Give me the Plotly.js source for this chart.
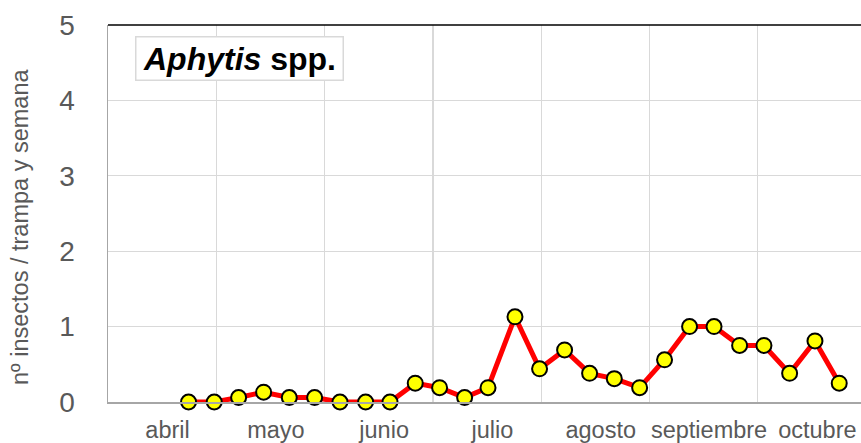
<!DOCTYPE html>
<html>
<head>
<meta charset="utf-8">
<script src="https://cdn.plot.ly/plotly-3.0.1.min.js"></script>
<style>
html,body{margin:0;padding:0;background:#fff;}
#chart{width:861px;height:443px;}
</style>
</head>
<body>
<div id="chart"></div>
<script>
// Month categories (each month = 1 unit on the x axis)
const months = ["abril", "mayo", "junio", "julio", "agosto", "septiembre", "octubre"];
const monthLabelPos = [0.55, 1.55, 2.55, 3.55, 4.55, 5.55, 6.55];
const monthBounds = [0, 1, 2, 3, 4, 5, 6, 7];
// Weekly sampling positions (in month units)
const weekPos = [0.744, 0.981, 1.206, 1.437, 1.674, 1.908, 2.142, 2.379, 2.604, 2.837,
                 3.062, 3.293, 3.509, 3.758, 3.985, 4.216, 4.447, 4.675, 4.909, 5.139,
                 5.370, 5.596, 5.832, 6.057, 6.294, 6.528, 6.752];
// nº insectos / trampa y semana
const aphytis = [0, 0, 0.06, 0.13, 0.06, 0.06, 0, 0, 0, 0.25,
                 0.19, 0.06, 0.19, 1.13, 0.44, 0.69, 0.38, 0.31, 0.19, 0.56,
                 1.0, 1.0, 0.75, 0.75, 0.38, 0.81, 0.25];
const yTicks = [0, 1, 2, 3, 4, 5];
const yTitle = "nº insectos / trampa y semana";
const seriesTitle = "<b><i>Aphytis</i> spp.</b>";

const FONT = "Liberation Sans, Arial, sans-serif";

const trace = {
  x: weekPos, y: aphytis,
  type: "scatter", mode: "lines+markers",
  line: {color: "#ff0000", width: 5},
  marker: {size: 15, color: "#ffff00", line: {color: "#000000", width: 2}},
  cliponaxis: false,
  hoverinfo: "skip"
};

const layout = {
  width: 861, height: 443,
  margin: {l: 108, r: 0, t: 25, b: 41},
  paper_bgcolor: "#ffffff", plot_bgcolor: "#ffffff",
  showlegend: false,
  font: {family: FONT, color: "#595959"},
  xaxis: {
    range: [0, 6.953],
    tickmode: "array", tickvals: monthLabelPos, ticktext: months,
    showgrid: false, zeroline: false,
    ticks: "", ticklabelstandoff: 6,
    tickfont: {size: 23.5, color: "#595959", family: FONT},
    showline: true, linecolor: "#a6a6a6", linewidth: 1.5,
    minor: {tickmode: "array", tickvals: monthBounds, showgrid: true, gridcolor: "#d9d9d9", gridwidth: 1.3, ticks: ""},
    fixedrange: true
  },
  yaxis: {
    range: [0, 5],
    tickmode: "array", tickvals: yTicks,
    showgrid: true, gridcolor: "#d9d9d9", gridwidth: 1.3,
    zeroline: false, ticks: "", ticklabelstandoff: 26,
    tickfont: {size: 28, color: "#595959", family: FONT},
    showline: true, linecolor: "#a6a6a6", linewidth: 1.5,
    fixedrange: true
  },
  shapes: [{
    type: "line", xref: "paper", yref: "paper", x0: 0, x1: 1, y0: 1, y1: 1,
    line: {color: "#000000", width: 1.6}
  }],
  annotations: [{
    xref: "paper", yref: "paper", x: 0.036, y: 0.97, xanchor: "left", yanchor: "top",
    text: seriesTitle, showarrow: false,
    font: {size: 32, color: "#000000", family: FONT},
    bgcolor: "#ffffff", bordercolor: "#d9d9d9", borderwidth: 1.5, borderpad: 2,
    width: 202, height: 38
  }, {
    xref: "paper", yref: "paper", x: -0.117, y: 0.464, xanchor: "center", yanchor: "middle",
    text: yTitle, textangle: -90, showarrow: false,
    font: {size: 23.5, color: "#595959", family: FONT}
  }]
};

Plotly.newPlot("chart", [trace], layout, {displayModeBar: false, staticPlot: true});
</script>
</body>
</html>
